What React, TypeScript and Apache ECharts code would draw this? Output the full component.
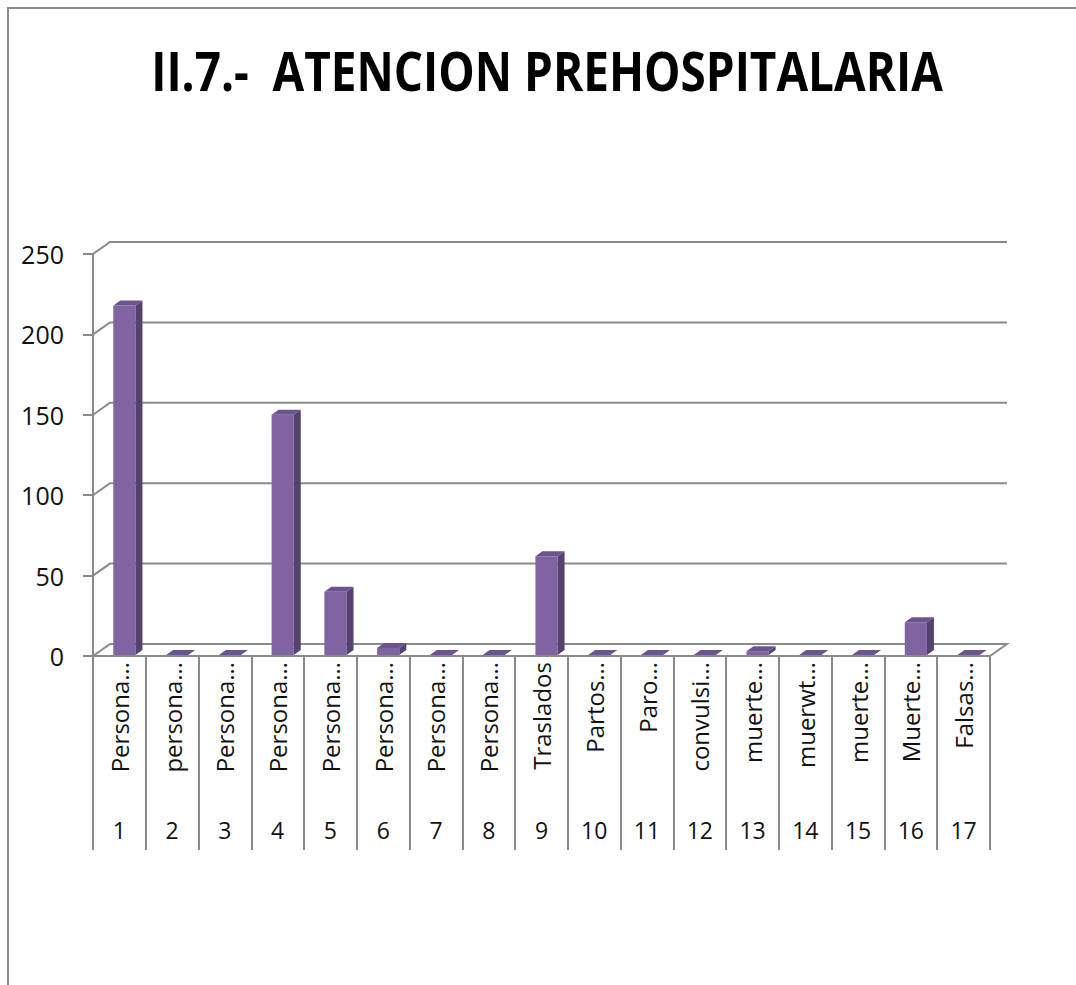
import React, { useEffect, useRef } from "react";
import * as echarts from "echarts";

const chartTitle = "II.7.-  ATENCION PREHOSPITALARIA";
const categories = [
  "Persona…", "persona…", "Persona…", "Persona…", "Persona…", "Persona…",
  "Persona…", "Persona…", "Traslados", "Partos…", "Paro…", "convulsi…",
  "muerte…", "muerwt…", "muerte…", "Muerte…", "Falsas…",
];
const categoryNumbers = ["1", "2", "3", "4", "5", "6", "7", "8", "9", "10", "11", "12", "13", "14", "15", "16", "17"];
const values = [218, 0, 0, 150, 40, 5, 0, 0, 62, 0, 0, 0, 3, 0, 0, 21, 0];
const yTicks = [0, 50, 100, 150, 200, 250];

const GRID_COLOR = "#8a8a8a";
const FONT = "'Open Sans', 'Noto Sans', sans-serif";
const DX = 17;
const DY = -12;
const BDX = 7;
const BDY = -5;
const SHIFT = 5;

export default function App() {
  const ref = useRef<HTMLDivElement>(null);
  useEffect(() => {
    if (!ref.current) return;
    const chart = echarts.init(ref.current, null, { renderer: "svg" });
    const option: any = {
      animation: false,
      backgroundColor: "#ffffff",
      graphic: [
        {
          type: "rect",
          shape: { x: 8, y: 8, width: 1300, height: 1300 },
          style: { fill: "none", stroke: "#8c8c8c", lineWidth: 2 },
          silent: true,
        },
        {
          type: "text",
          x: 547,
          y: 70,
          scaleX: 0.85,
          style: {
            text: chartTitle,
            fontFamily: "'Open Sans', sans-serif",
            fontWeight: "bold",
            fontSize: 54,
            fill: "#000000",
            align: "center",
            verticalAlign: "middle",
          },
        },
      ],
      grid: { left: 93, right: 86, top: 254, bottom: 329, containLabel: false },
      xAxis: [
        {
          type: "category",
          gridIndex: 0,
          position: "bottom",
          data: categories,
          axisLine: { show: true, lineStyle: { color: GRID_COLOR, width: 2 } },
          axisTick: { show: true, interval: 0, length: 194, lineStyle: { color: GRID_COLOR, width: 2 } },
          axisLabel: { interval: 0, rotate: 90, margin: 6, fontSize: 24, color: "#111", fontFamily: FONT },
          splitLine: { show: false },
        },
        {
          type: "category",
          gridIndex: 0,
          position: "bottom",
          offset: 0,
          data: categoryNumbers,
          axisLine: { show: false },
          axisTick: { show: false },
          axisLabel: { interval: 0, margin: 162, fontSize: 23, color: "#111", fontFamily: FONT },
          splitLine: { show: false },
        },
      ],
      yAxis: {
        type: "value",
        min: 0,
        max: 250,
        interval: 50,
        axisLine: { show: true, lineStyle: { color: GRID_COLOR, width: 2 } },
        axisTick: { show: true, length: 10, lineStyle: { color: GRID_COLOR, width: 2 } },
        axisLabel: { margin: 29, fontSize: 25, color: "#111", fontFamily: FONT },
        splitLine: { show: false },
      },
      series: [
        {
          type: "custom",
          name: "walls",
          clip: false,
          silent: true,
          xAxisIndex: 0,
          yAxisIndex: 0,
          data: yTicks.map((v) => [0, v]),
          renderItem: (params: any, api: any) => {
            const v = api.value(1);
            const bw = api.size([1, 0])[0];
            const pL = api.coord([0, v]);
            const pR = api.coord([categories.length - 1, v]);
            const xl = pL[0] - bw / 2;
            const xr = pR[0] + bw / 2;
            const y = pL[1];
            const points =
              v === 0
                ? [[xl, y], [xl + DX, y + DY], [xr + DX, y + DY], [xr, y]]
                : [[xl, y], [xl + DX, y + DY], [xr + DX, y + DY]];
            return {
              type: "polyline",
              shape: { points },
              style: { stroke: GRID_COLOR, lineWidth: 2, fill: null },
            };
          },
        },
        {
          type: "custom",
          name: "ATENCION PREHOSPITALARIA",
          clip: false,
          xAxisIndex: 0,
          yAxisIndex: 0,
          data: values.map((v, i) => [i, v]),
          renderItem: (params: any, api: any) => {
            const i = api.value(0);
            const v = api.value(1);
            const top = api.coord([i, v]);
            const base = api.coord([i, 0]);
            const bw = api.size([1, 0])[0];
            const w = bw * 0.42;
            const x0 = top[0] - w / 2 + SHIFT;
            const x1 = x0 + w;
            const yb = base[1] - 1;
            const yt = Math.min(top[1], yb);
            const children: any[] = [];
            if (yb - yt > 0.5) {
              children.push({
                type: "rect",
                shape: { x: x0, y: yt, width: w, height: yb - yt },
                style: { fill: "#8064A2" },
              });
              children.push({
                type: "polygon",
                shape: { points: [[x1, yt], [x1 + BDX, yt + BDY], [x1 + BDX, yb + BDY], [x1, yb]] },
                style: { fill: "#55426F" },
              });
            }
            children.push({
              type: "polygon",
              shape: { points: [[x0, yt], [x1, yt], [x1 + BDX, yt + BDY], [x0 + BDX, yt + BDY]] },
              style: { fill: "#6C5490" },
            });
            return { type: "group", children };
          },
        },
      ],
    };
    chart.setOption(option);
    return () => chart.dispose();
  }, []);
  return (
    <div
      ref={ref}
      style={{ position: "fixed", left: 0, top: 0, width: 1076, height: 985, background: "#fff" }}
    />
  );
}
